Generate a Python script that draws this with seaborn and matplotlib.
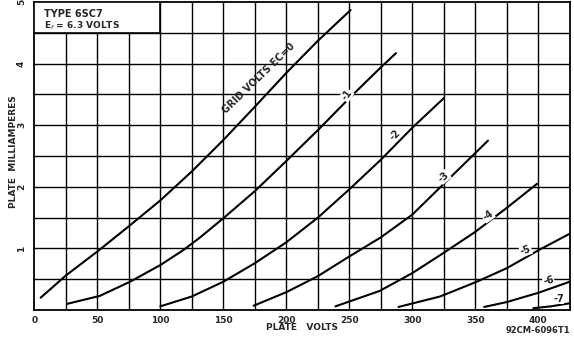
import matplotlib
matplotlib.use("Agg")
import matplotlib.pyplot as plt
import seaborn as sns
import pandas as pd
from matplotlib.patches import Rectangle

# ---- data (plate volts, plate mA) ----
ec0_v = [5, 25, 50, 75, 100, 125, 150, 175, 200, 225, 251]
ec0_i = [0.20, 0.56, 0.95, 1.36, 1.78, 2.25, 2.76, 3.30, 3.85, 4.37, 4.87]
ec1_v = [26, 52, 76, 100, 118, 131, 150, 175, 200, 226, 250, 274, 287]
ec1_i = [0.10, 0.23, 0.46, 0.73, 0.97, 1.17, 1.49, 1.93, 2.42, 2.94, 3.44, 3.92, 4.17]
ec2_v = [100, 125, 150, 175, 200, 225, 250, 275, 300, 325]
ec2_i = [0.06, 0.22, 0.46, 0.76, 1.10, 1.50, 1.96, 2.44, 2.96, 3.44]
ec3_v = [174, 200, 225, 250, 275, 300, 325, 350, 360]
ec3_i = [0.07, 0.29, 0.55, 0.87, 1.18, 1.55, 2.05, 2.55, 2.75]
ec4_v = [239, 274, 300, 325, 350, 375, 399]
ec4_i = [0.06, 0.31, 0.60, 0.93, 1.27, 1.66, 2.05]
ec5_v = [289, 322, 350, 375, 400, 425]
ec5_i = [0.05, 0.22, 0.45, 0.68, 0.97, 1.24]
ec6_v = [357, 375, 400, 425]
ec6_i = [0.05, 0.13, 0.28, 0.46]
ec7_v = [396, 410, 425]
ec7_i = [0.03, 0.06, 0.11]

grid_volts = [0, -1, -2, -3, -4, -5, -6, -7]
curve_labels = ["GRID VOLTS EC=0", "-1", "-2", "-3", "-4", "-5", "-6", "-7"]
x_ticks = [0, 50, 100, 150, 200, 250, 300, 350, 400]
y_ticks = [1, 2, 3, 4, 5]

curves_v = [ec0_v, ec1_v, ec2_v, ec3_v, ec4_v, ec5_v, ec6_v, ec7_v]
curves_i = [ec0_i, ec1_i, ec2_i, ec3_i, ec4_i, ec5_i, ec6_i, ec7_i]

rows = []
for g, vs, cs in zip(grid_volts, curves_v, curves_i):
    for v, c in zip(vs, cs):
        rows.append({"grid": str(g), "volts": v, "ma": c})
df = pd.DataFrame(rows)

sns.set_style("white")
plt.rcParams["font.family"] = ["DejaVu Sans"]

fig = plt.figure(figsize=(5.74, 3.37), dpi=100)
ax = fig.add_axes([0.0598, 0.080, 0.933, 0.914])

# grid
for gx in range(25, 425, 25):
    ax.axvline(gx, color="black", lw=1.0, zorder=1)
for gy in [0.5, 1, 1.5, 2, 2.5, 3, 3.5, 4, 4.5]:
    ax.axhline(gy, color="black", lw=1.0, zorder=1)

sns.lineplot(data=df, x="volts", y="ma", hue="grid", units="grid",
             estimator=None, sort=True, palette=["black"] * 8,
             legend=False, lw=1.5, ax=ax, zorder=3)

ax.set_xlim(0, 425)
ax.set_ylim(0, 5)

# info box
ax.add_patch(Rectangle((0, 4.5), 100, 0.5, facecolor="white",
                       edgecolor="black", lw=1.2, zorder=4))
ax.text(8, 4.80, "TYPE 6SC7", fontsize=7, fontweight="bold", va="center", zorder=5)
ax.text(8, 4.62, "E$_f$ = 6.3 VOLTS", fontsize=6.5, fontweight="bold", va="center", zorder=5)

# curve labels
ax.text(178, 3.76, curve_labels[0], fontsize=7, fontweight="bold", rotation=44,
        ha="center", va="center", zorder=6)
lab_pos = [(248, 3.49, 55), (286, 2.84, 45), (325, 2.16, 40),
           (360, 1.53, 35), (390, 0.97, 20), (408, 0.48, 15), (416, 0.18, 0)]
for txt, (lx, ly, rot) in zip(curve_labels[1:], lab_pos):
    ax.text(lx, ly, txt, fontsize=7, fontweight="bold", rotation=rot,
            ha="center", va="center", zorder=6,
            bbox=dict(boxstyle="square,pad=0.05", fc="white", ec="none"))

ax.set_xticks(x_ticks)
ax.set_xticklabels([str(t) for t in x_ticks], fontsize=6.5, fontweight="bold")
ax.set_yticks(y_ticks)
ax.set_yticklabels([str(t) for t in y_ticks], fontsize=6.5, fontweight="bold",
                   rotation=90, va="center")
ax.tick_params(axis="both", length=2, width=0.8, pad=2, color="black")
ax.tick_params(axis="y", pad=4)

ax.set_xlabel("")
ax.set_ylabel("")
fig.text(0.527, 0.028, "PLATE   VOLTS", fontsize=6.5, fontweight="bold",
         ha="center", va="center")
fig.text(0.024, 0.55, "PLATE  MILLIAMPERES", fontsize=6.5, fontweight="bold",
         ha="center", va="center", rotation=90)
fig.text(0.993, 0.02, "92CM-6096T1", fontsize=6, fontweight="bold",
         ha="right", va="center")

for s in ax.spines.values():
    s.set_color("black")
    s.set_linewidth(1.3)

fig.savefig("out.png", dpi=100)
